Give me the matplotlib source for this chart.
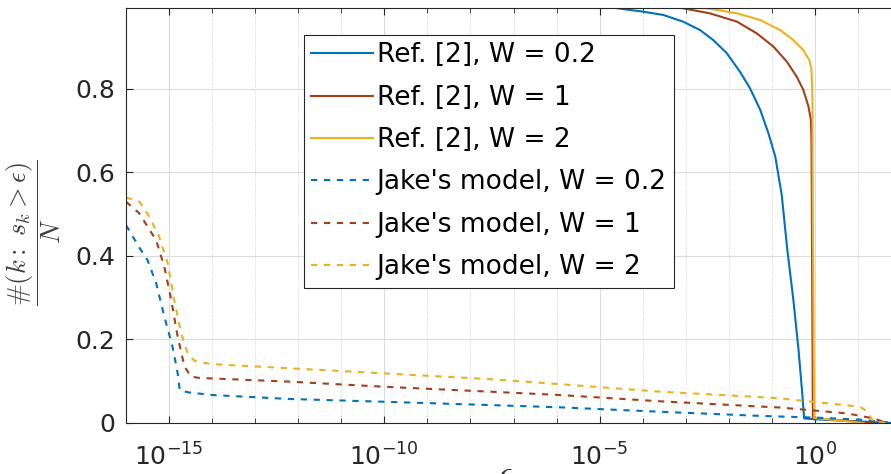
import numpy as np
import matplotlib
matplotlib.use("Agg")
import matplotlib.pyplot as plt
from matplotlib.ticker import FixedLocator, FuncFormatter, NullFormatter

# log10(epsilon) and fraction #(k: s_k > eps)/N
ref02_log = [-5.0, -4.45, -3.99, -3.52, -3.06, -2.67, -2.36, -2.05, -1.74, -1.51, -1.27, -1.08, -0.92,
             -0.77, -0.64, -0.50, -0.38, -0.30, -0.25, -0.03, 1.0, 1.77]
ref02_val = [1.0, 0.991, 0.985, 0.977, 0.961, 0.941, 0.917, 0.886, 0.841, 0.802, 0.750, 0.694, 0.638,
             0.546, 0.414, 0.295, 0.175, 0.079, 0.011, 0.009, 0.004, 0.0]

ref1_log = [-3.5, -3.06, -2.44, -1.81, -1.35, -0.96, -0.65, -0.42, -0.27, -0.15, -0.093, -0.079,
            -0.070, -0.047, 0.5, 1.36]
ref1_val = [1.0, 0.993, 0.981, 0.961, 0.933, 0.901, 0.865, 0.829, 0.798, 0.758, 0.726, 0.678,
            0.486, 0.012, 0.007, 0.0]

ref2_log = [-3.0, -2.44, -1.81, -1.27, -0.81, -0.50, -0.27, -0.13, -0.079, -0.056, -0.047, -0.016,
            0.5, 1.13]
ref2_val = [1.0, 0.992, 0.981, 0.965, 0.941, 0.917, 0.893, 0.869, 0.846, 0.774, 0.486, 0.012,
            0.007, 0.0]

jake02_log = [-16.0, -15.69, -15.50, -15.30, -15.11, -14.92, -14.80, -14.75, -14.53, -13.99, -12.20,
              -10.04, -7.55, -5.92, -3.60, -1.27, 0.0, 1.05, 1.77]
jake02_val = [0.474, 0.42, 0.39, 0.335, 0.255, 0.183, 0.119, 0.078, 0.073, 0.067, 0.0575,
              0.051, 0.043, 0.0375, 0.027, 0.017, 0.013, 0.008, 0.001]

jake1_log = [-16.0, -15.69, -15.50, -15.30, -15.11, -14.95, -14.80, -14.64, -14.49, -14.30, -12.20,
             -10.04, -7.55, -5.92, -3.60, -0.81, 0.75, 1.36, 1.62]
jake1_val = [0.53, 0.502, 0.47, 0.438, 0.374, 0.295, 0.207, 0.135, 0.111, 0.108, 0.099,
             0.087, 0.075, 0.067, 0.052, 0.037, 0.023, 0.011, 0.002]

jake2_log = [-16.0, -15.69, -15.46, -15.23, -15.03, -14.88, -14.72, -14.57, -14.41, -14.30, -13.99,
             -12.20, -10.04, -7.55, -5.92, -3.60, -1.27, -0.81, 1.05, 1.22, 1.36, 1.77]
jake2_val = [0.54, 0.53, 0.494, 0.446, 0.382, 0.295, 0.215, 0.167, 0.149, 0.146, 0.141,
             0.131, 0.119, 0.105, 0.093, 0.075, 0.062, 0.059, 0.039, 0.027, 0.003, 0.0]

labels = ["Ref. [2], W = 0.2", "Ref. [2], W = 1", "Ref. [2], W = 2",
          "Jake's model, W = 0.2", "Jake's model, W = 1", "Jake's model, W = 2"]
colors = ["#0072BD", "#A3401A", "#EDB120"]

txt = "#262626"
plt.rcParams["font.family"] = "DejaVu Sans"

fig = plt.figure(figsize=(8.91, 4.74), dpi=100)
ax = fig.add_axes([126 / 891, 51 / 474, 775 / 891, 414.7 / 474])

refs = [(ref02_log, ref02_val), (ref1_log, ref1_val), (ref2_log, ref2_val)]
jakes = [(jake02_log, jake02_val), (jake1_log, jake1_val), (jake2_log, jake2_val)]
for (lx, v), c, lab in zip(refs, colors, labels[:3]):
    ax.plot(np.power(10.0, lx), v, color=c, lw=1.5, label=lab)
for (lx, v), c, lab in zip(jakes, colors, labels[3:]):
    ax.plot(np.power(10.0, lx), v, color=c, lw=1.5, ls=(0, (3.0, 3.2)), label=lab)

ax.set_xscale("log")
ax.set_xlim(1e-16, 1e2)
ax.set_ylim(0, 0.993)

ax.xaxis.set_major_locator(FixedLocator([1e-15, 1e-10, 1e-5, 1e0]))
ax.xaxis.set_minor_locator(FixedLocator([10.0 ** k for k in range(-16, 3)]))
ax.xaxis.set_major_formatter(FuncFormatter(lambda v, p: r"$10^{%d}$" % round(np.log10(v))))
ax.xaxis.set_minor_formatter(NullFormatter())
ax.set_yticks([0, 0.2, 0.4, 0.6, 0.8])
ax.set_yticklabels(["0", "0.2", "0.4", "0.6", "0.8"])

ax.tick_params(which="both", direction="in", top=True, right=True, colors=txt, labelsize=18)
ax.tick_params(which="major", length=5, width=0.8)
ax.tick_params(which="minor", length=3.5, width=0.6)
ax.tick_params(axis="x", pad=15)
ax.tick_params(axis="y", pad=8)

ax.grid(True, which="major", color="#dcdcdc", lw=0.8, ls="-")
ax.grid(True, which="minor", axis="x", color="#c8c8c8", lw=0.6, ls=":")
ax.set_axisbelow(True)
for s in ax.spines.values():
    s.set_color(txt)
    s.set_linewidth(0.8)

ax.set_ylabel(r"$\dfrac{\#(k{:}\ s_k > \epsilon)}{N}$", fontsize=19, color="#404040",
              math_fontfamily="cm")
ax.yaxis.set_label_coords(-0.081, 0.46)
ax.set_xlabel(r"$\epsilon$", fontsize=24, color=txt, math_fontfamily="cm")
ax.xaxis.set_label_coords(0.489, -0.085)

leg = ax.legend(loc="upper left", bbox_to_anchor=(0.2297, 0.9356), borderaxespad=0,
                fontsize=19, frameon=True, fancybox=False, framealpha=1,
                handlelength=2.35, handletextpad=0.12, labelspacing=0.62,
                borderpad=0.28)
leg.get_frame().set_edgecolor(txt)
leg.get_frame().set_linewidth(0.8)

fig.savefig("out.png", dpi=100)
